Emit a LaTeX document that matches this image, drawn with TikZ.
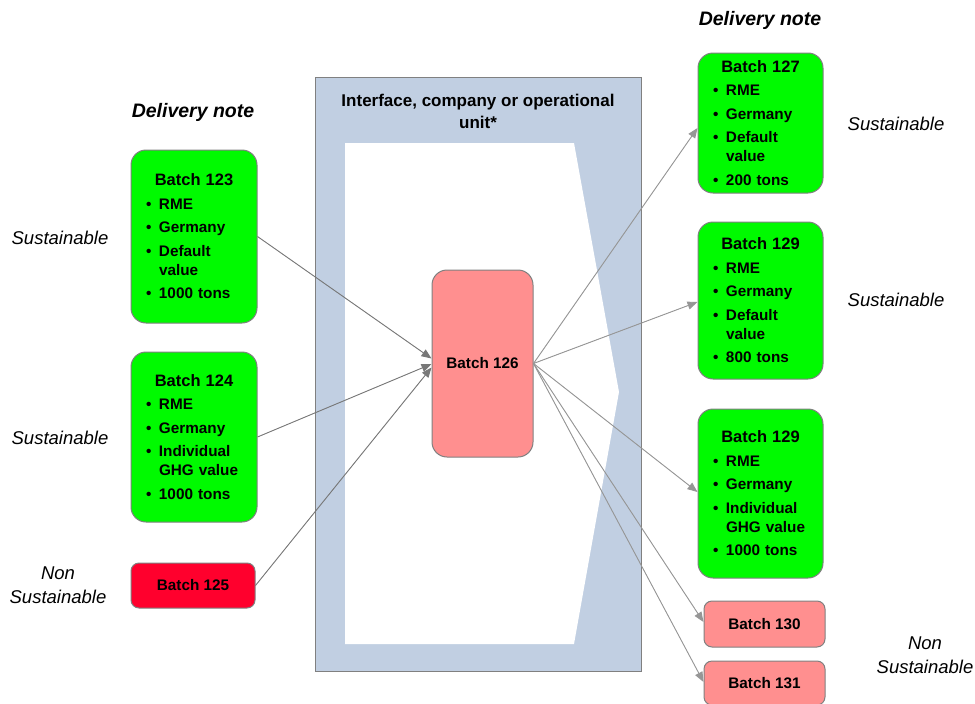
\documentclass[tikz,border=0pt]{standalone}
\usepackage{fontspec}
\setmainfont{Liberation Sans}
\usetikzlibrary{arrows.meta,calc}

\definecolor{unitblue}{RGB}{193,207,226}
\definecolor{okgreen}{RGB}{0,250,0}
\definecolor{badred}{RGB}{255,0,45}
\definecolor{mixpink}{RGB}{255,143,143}
\definecolor{edgegray}{RGB}{128,128,128}
\definecolor{ingray}{RGB}{120,120,120}
\definecolor{outgray}{RGB}{150,150,150}

% heading line and bullet items inside a batch box
\newcommand\bhead[1]{\noindent\makebox[\linewidth]{\fontsize{16.5}{19}\selectfont #1}}
\newcommand\bitem[1]{\par\hangindent=13pt\hangafter=1\noindent\makebox[13pt][l]{\textbullet}#1}

\tikzset{
  batchbox/.style={draw=edgegray, line width=1pt, rounded corners=15pt,
    text width=96pt, inner xsep=15pt, inner ysep=0pt, align=left,
    font=\bfseries\fontsize{15.3}{19}\selectfont,
    execute at begin node={\setlength{\parskip}{4.5pt}}},
  goodbox/.style={batchbox, fill=okgreen},
  smallbox/.style={draw=edgegray, line width=1pt, rounded corners=8pt,
    inner sep=0pt, font=\bfseries\fontsize{15.3}{18}\selectfont},
  pinkbox/.style={smallbox, fill=mixpink},
  redbox/.style={smallbox, fill=badred},
  status/.style={font=\itshape\fontsize{18.5}{24}\selectfont, align=center},
  notehead/.style={font=\bfseries\itshape\fontsize{19.5}{24}\selectfont},
  inarrow/.style={draw=ingray, line width=0.9pt, -{Triangle[length=10pt,width=8pt]}, fill=ingray},
  outarrow/.style={draw=outgray, line width=0.9pt, -{Triangle[length=10pt,width=8pt]}, fill=outgray},
}

\begin{document}
\begin{tikzpicture}[x=1pt, y=-1pt]
\useasboundingbox (0,0) rectangle (975,704);

% interface / operational unit
\draw[fill=unitblue, draw=edgegray, line width=1pt] (315,77) rectangle (641,671);
\fill[white] (345,143) -- (574,143) -- (619,392) -- (574,644) -- (345,644) -- cycle;
\node[font=\bfseries\fontsize{17}{22}\selectfont, align=center] (unit) at (478,111)
  {Interface, company or operational\\unit*};

% incoming batches
\node[notehead] (notein) at (193,112) {Delivery note};
\node[goodbox, minimum height=173pt] (b123) at (194,236.5)
  {\bhead{Batch 123}\bitem{RME}\bitem{Germany}\bitem{Default\newline value}\bitem{1000 tons}};
\node[goodbox, minimum height=170pt] (b124) at (194,437)
  {\bhead{Batch 124}\bitem{RME}\bitem{Germany}\bitem{Individual\newline \mbox{GHG value}}\bitem{1000 tons}};
\node[redbox, minimum width=124pt, minimum height=45pt] (b125) at (193,585.5) {Batch 125};

\node[status] (s123) at (60,238) {Sustainable};
\node[status] (s124) at (60,438) {Sustainable};
\node[status] (s125) at (58,585) {Non\\Sustainable};

% mixed batch
\node[pinkbox, rounded corners=15pt, minimum width=101pt, minimum height=187pt] (b126) at (482.5,363.5) {Batch 126};

% outgoing batches
\node[notehead] (noteout) at (760,20) {Delivery note};
\node[goodbox, minimum height=140pt, text width=95pt] (b127) at (760.5,123)
  {\bhead{Batch 127}\bitem{RME}\bitem{Germany}\bitem{Default\newline value}\bitem{200 tons}};
\node[goodbox, minimum height=157pt, text width=95pt] (b129a) at (760.5,300.5)
  {\bhead{Batch 129}\bitem{RME}\bitem{Germany}\bitem{Default\newline value}\bitem{800 tons}};
\node[goodbox, minimum height=169pt, text width=95pt] (b129b) at (760.5,493.5)
  {\bhead{Batch 129}\bitem{RME}\bitem{Germany}\bitem{Individual\newline \mbox{GHG value}}\bitem{1000 tons}};
\node[pinkbox, minimum width=121pt, minimum height=46pt] (b130) at (764.5,624) {Batch 130};
\node[pinkbox, minimum width=121pt, minimum height=44pt] (b131) at (764.5,683) {Batch 131};

\node[status] (s127) at (896,124) {Sustainable};
\node[status] (s129) at (896,300) {Sustainable};
\node[status] (s130) at (925,655) {Non\\Sustainable};

% flows into the unit
\draw[inarrow] (b123.east) -- ($(b126.west)+(0,-5)$);
\draw[inarrow] (b124.east) -- ($(b126.west)+(0,0.5)$);
\draw[inarrow] (b125.east) -- ($(b126.west)+(0,4)$);

% flows out of the unit
\draw[outarrow] (b126.east) -- ($(b127.west)+(0,5)$);
\draw[outarrow] (b126.east) -- ($(b129a.west)+(0,1.5)$);
\draw[outarrow] (b126.east) -- ($(b129b.west)+(0,-1.5)$);
\draw[outarrow] (b126.east) -- ($(b130.west)+(0,-2)$);
\draw[outarrow] (b126.east) -- ($(b131.west)+(0,-1)$);
\end{tikzpicture}
\end{document}
